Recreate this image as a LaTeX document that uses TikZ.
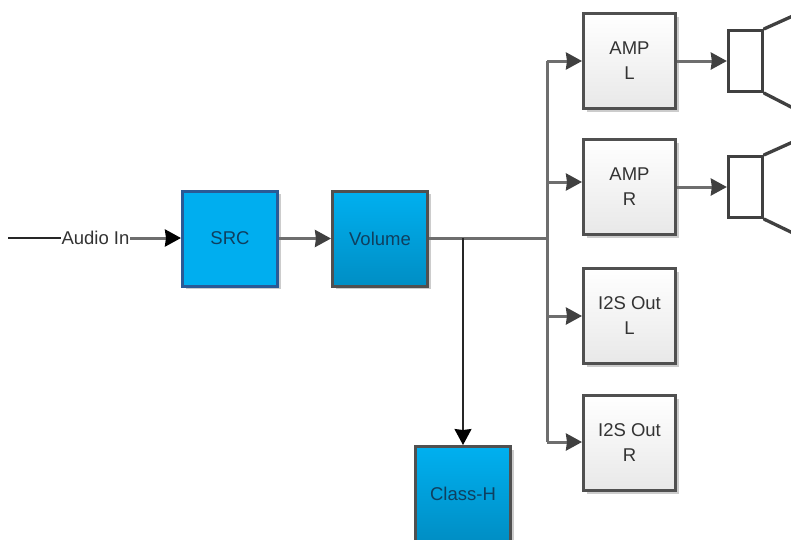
\documentclass[tikz,border=0pt]{standalone}
\usepackage{fontspec}
\setmainfont{Liberation Sans}
\usetikzlibrary{arrows.meta,shadows,positioning}
\definecolor{lineg}{HTML}{6E6E6E}
\definecolor{headg}{HTML}{404040}
\definecolor{boxedge}{HTML}{505050}
\definecolor{txtd}{HTML}{0F3F5F}
\tikzset{
  x=1pt,y=-1pt,
  softshadow/.style={drop shadow={shadow xshift=3pt,shadow yshift=-3pt,opacity=0.2,fill=black}},
  blockbase/.style={draw=boxedge,line width=3pt,minimum width=95pt,minimum height=95pt,inner sep=0pt,align=center,font=\fontsize{18.5}{25}\selectfont,softshadow,anchor=center},
  greybox/.style={blockbase,minimum width=92pt,top color=white,bottom color=black!9,text=black!80},
  bluebox/.style={blockbase,top color={rgb,255:red,0;green,176;blue,240},bottom color={rgb,255:red,0;green,142;blue,196},text=txtd},
  srcbox/.style={blockbase,draw={rgb,255:red,42;green,90;blue,150},fill={rgb,255:red,0;green,174;blue,239},text=txtd},
  wire/.style={draw=lineg,line width=3pt},
  thinwire/.style={draw=black!85,line width=1.6pt},
  arr/.style={wire,-{Stealth[length=16pt,width=17pt,inset=1pt,color=headg]}},
  blackarr/.style={thinwire,-{Stealth[length=16pt,width=17pt,inset=1pt,color=black]}},
  speakerbody/.style={draw=headg,line width=3.3pt,fill=white,minimum width=34pt,minimum height=61pt,inner sep=0pt},
  speakerpart/.style={draw=headg,line width=3.3pt,line cap=round},
}
\begin{document}
\begin{tikzpicture}
\useasboundingbox (0,0) rectangle (791,539);
\clip (0,0) rectangle (791,539);
\fill[white] (0,0) rectangle (791,539);
% blocks
\node[srcbox] (src) at (230,238.5) {SRC};
\node[bluebox] (vol) at (380,238.5) {Volume};
\node[bluebox] (classh) at (463,494) {Class-H};
\node[greybox] (ampl) at (629.5,61) {AMP\\L};
\node[greybox] (ampr) at (629.5,187) {AMP\\R};
\node[greybox] (i2sl) at (629.5,316) {I2S Out\\L};
\node[greybox] (i2sr) at (629.5,443) {I2S Out\\R};
% speakers
\node[speakerbody] (spkl) at (745.5,61) {};
\node[speakerbody] (spkr) at (745.5,187) {};
\coordinate (conelt) at (795,15);
\coordinate (conelb) at (795,109);
\coordinate (conert) at (795,141);
\coordinate (conerb) at (795,234);
\draw[speakerpart] (spkl.north east) -- (conelt);
\draw[speakerpart] (spkl.south east) -- (conelb);
\draw[speakerpart] (spkr.north east) -- (conert);
\draw[speakerpart] (spkr.south east) -- (conerb);
% junctions
\coordinate (start) at (8,238);
\coordinate (j1) at (463,238);
\coordinate (j2) at (547,238);
\coordinate (t1) at (547,61);
\coordinate (t2) at (547,182);
\coordinate (t3) at (547,316);
\coordinate (t4) at (547,442);
% connectors
\draw[wire] (vol.east |- j2) -- (j2);
\draw[wire] (t1) -- (t4);
\draw[arr] (t1) -- (t1 -| ampl.west);
\draw[arr] (t2) -- (t2 -| ampr.west);
\draw[arr] (t3) -- (t3 -| i2sl.west);
\draw[arr] (t4) -- (t4 -| i2sr.west);
\draw[arr] (ampl.east) -- (spkl.west);
\draw[arr] (ampr.east |- spkr.west) -- (spkr.west);
\draw[arr] (src.east |- vol.west) -- (vol.west);
\draw[blackarr] (j1) -- (classh.north);
\node[inner sep=0.5pt,text=black!80,font=\fontsize{18.5}{20}\selectfont] (audio) at (95.5,238) {Audio In};
\draw[thinwire] (start) -- (audio.west);
\draw[wire,-{Stealth[length=16pt,width=17pt,inset=1pt,color=black]}] (audio.east) -- (audio.east -| src.west);
\end{tikzpicture}
\end{document}
